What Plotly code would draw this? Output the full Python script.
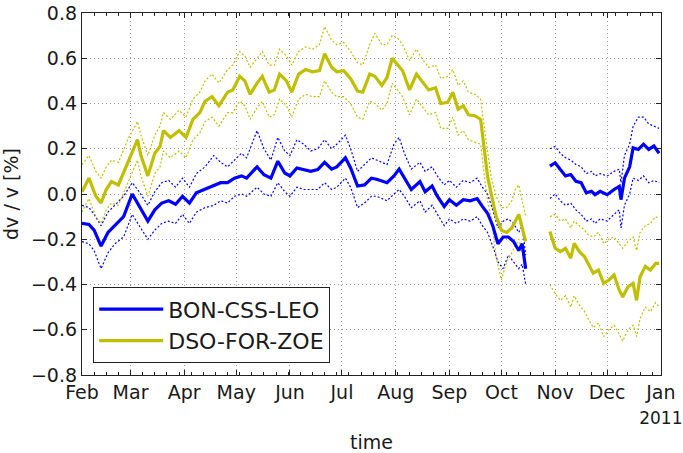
import plotly.graph_objects as go
import pandas as pd

START = pd.Timestamp("2010-02-01")

# ---- BON-CSS-LEO (blue) : days after 2010-02-01 ----
blue_days_a = [0, 4, 7, 11, 15, 19, 24, 29, 33, 38,
               42, 46, 50, 54, 58, 62, 66, 71, 76, 80,
               84, 88, 92, 95, 101, 105, 109, 113, 117, 120,
               124, 128, 132, 136, 140, 144, 147, 152, 155, 159,
               163, 167, 170, 176, 180, 183, 186, 190, 195, 198,
               202, 205, 209, 212, 216, 220, 224, 228, 231, 234,
               237, 240, 243, 246, 249, 252, 254, 256]
blue_main_a = [-0.13, -0.135, -0.16, -0.23, -0.17, -0.14, -0.10, 0.0, -0.055, -0.12,
               -0.07, -0.04, -0.03, -0.045, -0.01, -0.04, 0.005, 0.02, 0.035, 0.05,
               0.05, 0.07, 0.08, 0.07, 0.12, 0.085, 0.07, 0.145, 0.093, 0.08,
               0.115, 0.108, 0.10, 0.108, 0.14, 0.11, 0.12, 0.16, 0.115, 0.035,
               0.04, 0.07, 0.065, 0.05, 0.08, 0.11, 0.07, 0.02, 0.055, 0.01,
               0.035, -0.01, -0.055, -0.025, -0.05, -0.025, -0.03, -0.02, -0.055, -0.085,
               -0.14, -0.22, -0.19, -0.19, -0.21, -0.25, -0.22, -0.33]
blue_up_a = [-0.05, -0.06, -0.09, -0.14, -0.08, -0.05, -0.01, 0.05, 0.01, -0.05,
             0.01, 0.05, 0.06, 0.03, 0.07, 0.03, 0.09, 0.12, 0.17, 0.14,
             0.12, 0.15, 0.18, 0.16, 0.28, 0.20, 0.15, 0.25, 0.19, 0.17,
             0.24, 0.22, 0.19, 0.20, 0.24, 0.20, 0.22, 0.26, 0.20, 0.10,
             0.13, 0.16, 0.15, 0.13, 0.22, 0.25, 0.18, 0.11, 0.14, 0.10,
             0.12, 0.08, 0.04, 0.06, 0.03, 0.06, 0.05, 0.07, 0.03, 0.00,
             -0.07, -0.15, -0.12, -0.11, -0.13, -0.17, -0.14, -0.27]
blue_lo_a = [-0.21, -0.22, -0.25, -0.33, -0.26, -0.22, -0.19, -0.09, -0.14, -0.20,
             -0.16, -0.13, -0.12, -0.13, -0.09, -0.13, -0.08, -0.06, -0.05, -0.03,
             -0.04, -0.01, 0.00, -0.01, 0.03, 0.00, -0.01, 0.05, 0.01, -0.01,
             0.03, 0.02, 0.02, 0.02, 0.05, 0.02, 0.03, 0.07, 0.03, -0.06,
             -0.04, -0.01, -0.01, -0.03, 0.00, 0.02, -0.01, -0.06, -0.03, -0.08,
             -0.05, -0.09, -0.14, -0.11, -0.13, -0.11, -0.12, -0.10, -0.14, -0.17,
             -0.23, -0.30, -0.33, -0.27, -0.30, -0.33, -0.31, -0.40]

blue_days_b = [270, 273, 276, 279, 282, 285, 288, 291, 294, 296,
               299, 303, 307, 310, 311, 313, 316, 318, 321, 324,
               327, 330, 333]
blue_main_b = [0.123, 0.138, 0.108, 0.08, 0.086, 0.056, 0.05, 0.005, 0.012, -0.003,
               0.012, -0.003, 0.02, 0.034, -0.025, 0.07, 0.12, 0.204, 0.197, 0.22,
               0.197, 0.212, 0.18]
blue_up_b = [0.20, 0.21, 0.18, 0.16, 0.15, 0.13, 0.12, 0.09, 0.10, 0.08,
             0.09, 0.08, 0.10, 0.11, 0.05, 0.17, 0.22, 0.30, 0.34, 0.34,
             0.31, 0.30, 0.29]
blue_lo_b = [-0.02, 0.00, -0.03, -0.05, -0.04, -0.07, -0.09, -0.12, -0.11, -0.13,
             -0.11, -0.12, -0.09, -0.07, -0.15, -0.05, 0.00, 0.07, 0.06, 0.08,
             0.05, 0.06, 0.05]

# ---- DSO-FOR-ZOE (yellow) ----
yel_days_a = [0, 4, 8, 11, 14, 17, 21, 27, 32, 34,
              38, 42, 45, 47, 51, 56, 60, 64, 68, 71,
              75, 79, 84, 87, 91, 94, 97, 101, 104, 108,
              111, 114, 118, 121, 125, 129, 133, 137, 140, 144,
              147, 151, 155, 159, 162, 166, 169, 173, 176, 179,
              182, 185, 189, 193, 196, 200, 204, 207, 211, 214,
              217, 220, 223, 227, 230, 232, 234, 236, 239, 242,
              245, 248, 250, 252, 254, 256]
yel_main_a = [0.01, 0.07, -0.01, -0.04, 0.02, 0.055, 0.04, 0.15, 0.24, 0.17,
              0.08, 0.18, 0.21, 0.28, 0.25, 0.28, 0.25, 0.33, 0.36, 0.41,
              0.43, 0.39, 0.45, 0.46, 0.52, 0.50, 0.44, 0.49, 0.52, 0.45,
              0.46, 0.53, 0.50, 0.45, 0.53, 0.55, 0.54, 0.545, 0.62, 0.56,
              0.54, 0.545, 0.51, 0.455, 0.45, 0.53, 0.52, 0.48, 0.515, 0.60,
              0.575, 0.545, 0.46, 0.53, 0.50, 0.46, 0.47, 0.40, 0.405, 0.45,
              0.375, 0.39, 0.35, 0.345, 0.33, 0.20, 0.08, 0.005, -0.10, -0.16,
              -0.17, -0.15, -0.12, -0.09, -0.15, -0.21]
yel_up_a = [0.13, 0.17, 0.10, 0.07, 0.12, 0.15, 0.14, 0.25, 0.32, 0.26,
            0.17, 0.26, 0.30, 0.36, 0.33, 0.37, 0.34, 0.42, 0.45, 0.50,
            0.53, 0.49, 0.55, 0.57, 0.63, 0.61, 0.56, 0.60, 0.63, 0.57,
            0.57, 0.64, 0.61, 0.57, 0.63, 0.65, 0.64, 0.66, 0.74, 0.68,
            0.66, 0.67, 0.63, 0.58, 0.57, 0.66, 0.71, 0.66, 0.66, 0.70,
            0.69, 0.66, 0.59, 0.64, 0.60, 0.56, 0.57, 0.51, 0.52, 0.55,
            0.48, 0.50, 0.45, 0.44, 0.42, 0.30, 0.18, 0.08, -0.01, -0.06,
            -0.06, -0.03, 0.02, 0.04, -0.03, -0.10]
yel_lo_a = [-0.08, -0.02, -0.10, -0.13, -0.07, -0.04, -0.05, 0.06, 0.15, 0.08,
            -0.01, 0.09, 0.12, 0.19, 0.16, 0.19, 0.16, 0.24, 0.27, 0.32,
            0.34, 0.30, 0.36, 0.36, 0.41, 0.39, 0.33, 0.38, 0.41, 0.34,
            0.35, 0.42, 0.39, 0.34, 0.42, 0.44, 0.43, 0.43, 0.50, 0.45,
            0.43, 0.43, 0.40, 0.34, 0.33, 0.41, 0.40, 0.37, 0.40, 0.49,
            0.46, 0.43, 0.35, 0.42, 0.39, 0.35, 0.36, 0.29, 0.29, 0.34,
            0.26, 0.28, 0.24, 0.23, 0.22, 0.09, -0.03, -0.10, -0.28, -0.38,
            -0.30, -0.26, -0.23, -0.20, -0.26, -0.32]

yel_days_b = [270, 273, 276, 279, 282, 284, 287, 290, 292, 295,
              298, 301, 304, 307, 310, 312, 315, 318, 320, 322,
              325, 328, 331, 333]
yel_main_b = [-0.166, -0.24, -0.255, -0.24, -0.284, -0.218, -0.255, -0.277, -0.307, -0.35,
              -0.336, -0.395, -0.38, -0.358, -0.425, -0.455, -0.41, -0.395, -0.47, -0.366,
              -0.32, -0.336, -0.307, -0.307]
yel_up_b = [-0.10, -0.09, -0.12, -0.11, -0.15, -0.12, -0.14, -0.16, -0.18, -0.19,
            -0.17, -0.22, -0.20, -0.19, -0.22, -0.24, -0.21, -0.19, -0.25, -0.17,
            -0.14, -0.13, -0.10, -0.11]
yel_lo_b = [-0.40, -0.44, -0.47, -0.45, -0.50, -0.45, -0.49, -0.52, -0.55, -0.59,
            -0.57, -0.63, -0.60, -0.58, -0.62, -0.65, -0.60, -0.58, -0.63, -0.55,
            -0.50, -0.52, -0.48, -0.50]

month_ticks = ["2010-02-01", "2010-03-01", "2010-04-01", "2010-05-01", "2010-06-01",
               "2010-07-01", "2010-08-01", "2010-09-01", "2010-10-01", "2010-11-01",
               "2010-12-01", "2011-01-01"]
month_labels = ["Feb", "Mar", "Apr", "May", "Jun", "Jul", "Aug", "Sep", "Oct",
                "Nov", "Dec", "Jan<br><span style='font-size:17px'>2011</span>"]
y_ticks = [-0.8, -0.6, -0.4, -0.2, 0.0, 0.2, 0.4, 0.6, 0.8]
y_labels = ["\u22120.8", "\u22120.6", "\u22120.4", "\u22120.2", "0.0",
            "0.2", "0.4", "0.6", "0.8"]

BLUE = "#0000ff"
YEL = "#bfbf00"
FONT = "DejaVu Sans"
GRID = "#9a9a9a"


def to_dates(days):
    return [(START + pd.Timedelta(days=d)).strftime("%Y-%m-%d") for d in days]


def joined(days_a, vals_a, days_b, vals_b):
    return to_dates(days_a) + [None] + to_dates(days_b), list(vals_a) + [None] + list(vals_b)


fig = go.Figure()

for da, va, db, vb, col in [
    (blue_days_a, blue_up_a, blue_days_b, blue_up_b, BLUE),
    (blue_days_a, blue_lo_a, blue_days_b, blue_lo_b, BLUE),
    (yel_days_a, yel_up_a, yel_days_b, yel_up_b, YEL),
    (yel_days_a, yel_lo_a, yel_days_b, yel_lo_b, YEL),
]:
    x, y = joined(da, va, db, vb)
    fig.add_trace(go.Scatter(x=x, y=y, mode="lines", showlegend=False,
                             line=dict(color=col, width=1.2, dash="2px,2px"),
                             connectgaps=False, hoverinfo="skip"))

for da, va, db, vb, col, name in [
    (blue_days_a, blue_main_a, blue_days_b, blue_main_b, BLUE, "BON-CSS-LEO"),
    (yel_days_a, yel_main_a, yel_days_b, yel_main_b, YEL, "DSO-FOR-ZOE"),
]:
    x, y = joined(da, va, db, vb)
    fig.add_trace(go.Scatter(x=x, y=y, mode="lines", name=name,
                             line=dict(color=col, width=3.2),
                             connectgaps=False))

fig.update_layout(
    width=683, height=453,
    margin=dict(l=82, r=22, t=13, b=78),
    paper_bgcolor="white", plot_bgcolor="white",
    font=dict(family=FONT, size=19, color="#1a1a1a"),
    showlegend=True,
    legend=dict(x=0.019, y=0.243, xanchor="left", yanchor="top",
                bgcolor="white", bordercolor="#222222", borderwidth=1.2,
                font=dict(family=FONT, size=22, color="#1a1a1a"),
                itemwidth=64, tracegroupgap=0),
    xaxis=dict(
        type="date", range=["2010-02-01", "2011-01-01 02:00"],
        tickmode="array", tickvals=month_ticks, ticktext=month_labels,
        ticks="inside", ticklen=5, tickcolor="#222222",
        showline=True, linecolor="#222222", linewidth=1.3, mirror="ticks",
        showgrid=True, gridcolor=GRID, griddash="1px,3px", gridwidth=1,
        zeroline=False, automargin=False, ticklabeloverflow="allow",
        minor=dict(dtick=7 * 86400000, tick0="2010-02-01", ticks="inside",
                   ticklen=3, tickcolor="#222222", showgrid=False),
        title=dict(text="time", standoff=10, font=dict(size=19)),
        tickfont=dict(size=19),
        ticklabelstandoff=0,
    ),
    yaxis=dict(
        range=[-0.8, 0.8], tickmode="array", tickvals=y_ticks, ticktext=y_labels,
        automargin=False, ticklabeloverflow="allow",
        ticks="inside", ticklen=5, tickcolor="#222222",
        showline=True, linecolor="#222222", linewidth=1.3, mirror="ticks",
        showgrid=True, gridcolor=GRID, griddash="1px,3px", gridwidth=1,
        zeroline=False,
        title=dict(text="dv / v [%]", standoff=8, font=dict(size=19)),
        tickfont=dict(size=19),
        ticklabelstandoff=0,
    ),
)

fig.write_html("out.html")
